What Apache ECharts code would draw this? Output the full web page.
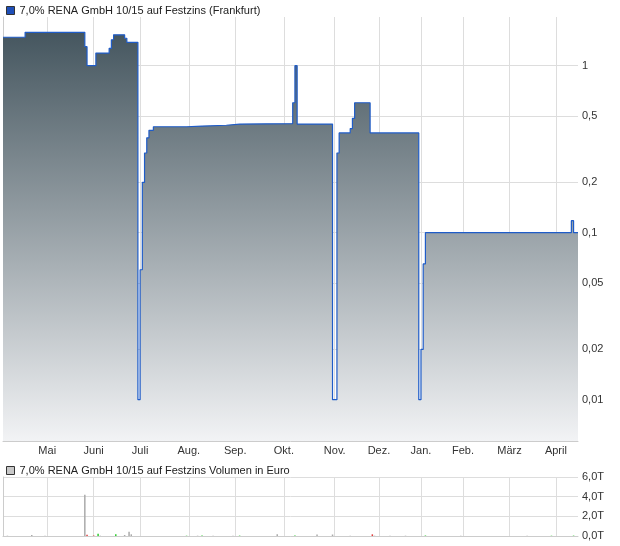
<!DOCTYPE html>
<html><head><meta charset="utf-8">
<script src="https://cdn.jsdelivr.net/npm/echarts@6/dist/echarts.min.js"></script>
<style>html,body{margin:0;padding:0;background:#fff}#c{width:620px;height:546px}</style>
</head><body><div id="c"></div>
<script>
const priceName = '7,0% RENA GmbH 10/15 auf Festzins (Frankfurt)';
const volumeName = '7,0% RENA GmbH 10/15 auf Festzins Volumen in Euro';

// x axis: trading-day index; months start at these trading days
const monthNames = ['Mai','Juni','Juli','Aug.','Sep.','Okt.','Nov.','Dez.','Jan.','Feb.','März','April'];
const monthStartDays = [20,41,62,84,105,127,150,170,189,208,229,250];
const lastDay = 260;

// price (step changes: from this trading day on, price is ...)
const priceDays   = [0,10,37,38,42,48,49,50,55,56,61,62,63,64,65,66,68,83,90,101,107,131,132,133,149,151,152,157,158,159,166,188,189,190,191,257,258,260];
const priceValues = [1.48,1.585,1.3,1.0,1.19,1.27,1.43,1.53,1.46,1.38,0.01,0.06,0.2,0.3,0.37,0.41,0.431,0.435,0.44,0.447,0.45,0.6,1.0,0.447,0.01,0.3,0.396,0.42,0.484,0.6,0.396,0.01,0.02,0.065,0.1,0.118,0.1,0.1];

// volume in Euro
const volumeDays      = [2,13,19,37,38,41,43,44,51,55,57,58,83,88,90,95,104,107,124,132,142,149,157,167,168,175,182,191,207,237,248,258];
const volumeValues    = [30,100,30,4200,130,50,240,30,170,100,440,170,30,30,40,30,30,40,170,40,150,150,30,170,30,30,30,50,30,30,30,40];
const volumeDirection = [0,0,0,0,-1,-1,1,0,1,0,0,0,1,0,1,0,0,1,0,1,0,0,0,-1,0,0,0,1,0,0,1,1];

const priceTicks = [0.01,0.02,0.05,0.1,0.2,0.5,1];
const priceTickLabels = ['0,01','0,02','0,05','0,1','0,2','0,5','1'];
const volumeTicks = [0,2000,4000,6000];
const volumeTickLabels = ['0,0T','2,0T','4,0T','6,0T'];

function nearestLabel(v, ticks, labels){
  let best = 0, bd = Infinity;
  ticks.forEach((t,i)=>{ const d = Math.abs(Math.log(t||1e-9) - Math.log(v||1e-9)); if(d<bd){bd=d;best=i;} });
  return labels[best];
}

const FONT = 'Liberation Sans, Arial, sans-serif';
const gridColor = '#dddddd';
const dirColor = {'0':'#aaaaaa','1':'#2ecc2e','-1':'#e03c3c'};

const priceData = priceDays.map((d,i)=>[d, priceValues[i]]);
const volumeData = volumeDays.map((d,i)=>({value:[d, volumeValues[i]], itemStyle:{color:dirColor[String(volumeDirection[i])]}}));

const xCommon = {
  type:'value', min:0, max:lastDay,
  axisTick:{show:false, customValues: monthStartDays},
  splitLine:{show:true, lineStyle:{color:gridColor, width:1}},
  axisLine:{show:true, lineStyle:{color:'#cccccc'}}
};

const chart = echarts.init(document.getElementById('c'), null, {renderer:'canvas'});
chart.setOption({
  animation:false,
  backgroundColor:'#ffffff',
  textStyle:{fontFamily:FONT},
  legend:[
    {left:1, top:0, itemWidth:8, itemHeight:8, icon:'rect', selectedMode:false,
     textStyle:{fontSize:11, color:'#222', fontFamily:FONT},
     data:[{name:priceName, itemStyle:{color:'#1f4fb8', borderColor:'#333', borderWidth:1}}]},
    {left:1, top:460, itemWidth:8, itemHeight:8, icon:'rect', selectedMode:false,
     textStyle:{fontSize:11, color:'#222', fontFamily:FONT},
     data:[{name:volumeName, itemStyle:{color:'#c8c8c8', borderColor:'#333', borderWidth:1}}]}
  ],
  grid:[
    {left:3, right:42, top:17, height:424},
    {left:3, right:42, top:477, height:59}
  ],
  xAxis:[
    Object.assign({}, xCommon, {gridIndex:0,
      axisLabel:{show:true, customValues: monthStartDays, margin:4, fontSize:11, color:'#333', fontFamily:FONT,
        formatter:(v)=>{ const i = monthStartDays.indexOf(Math.round(v)); return i>=0?monthNames[i]:''; }}}),
    Object.assign({}, xCommon, {gridIndex:1, axisLabel:{show:false}})
  ],
  yAxis:[
    {type:'log', gridIndex:0, position:'right', min:0.00566, max:1.957,
     axisLine:{show:true, lineStyle:{color:'#cccccc'}},
     axisTick:{show:false, customValues: priceTicks},
     splitLine:{show:true, lineStyle:{color:gridColor, width:1}},
     axisLabel:{customValues: priceTicks, margin:4, fontSize:11, color:'#333', fontFamily:FONT,
       formatter:(v)=>nearestLabel(v, priceTicks, priceTickLabels)}},
    {type:'value', gridIndex:1, position:'right', min:0, max:6000, interval:2000,
     axisLine:{show:true, lineStyle:{color:'#cccccc'}},
     axisTick:{show:false},
     splitLine:{show:true, lineStyle:{color:gridColor, width:1}},
     axisLabel:{margin:4, fontSize:11, color:'#333', fontFamily:FONT,
       formatter:(v)=>volumeTickLabels[volumeTicks.indexOf(Math.round(v))] || ''}}
  ],
  series:[
    {name:priceName, type:'line', xAxisIndex:0, yAxisIndex:0, step:'end', data:priceData,
     symbol:'none', lineStyle:{color:'#1f5cc8', width:1.2},
     itemStyle:{color:'#1f4fb8'},
     areaStyle:{origin:'start', opacity:1, color:new echarts.graphic.LinearGradient(0,0,0,1,[
       {offset:0, color:'#45565f'},{offset:1, color:'#f2f3f5'}])}},
    {name:volumeName, type:'bar', xAxisIndex:1, yAxisIndex:1, data:volumeData, barWidth:1.5,
     itemStyle:{color:'#c8c8c8'}}
  ]
});
</script></body></html>
